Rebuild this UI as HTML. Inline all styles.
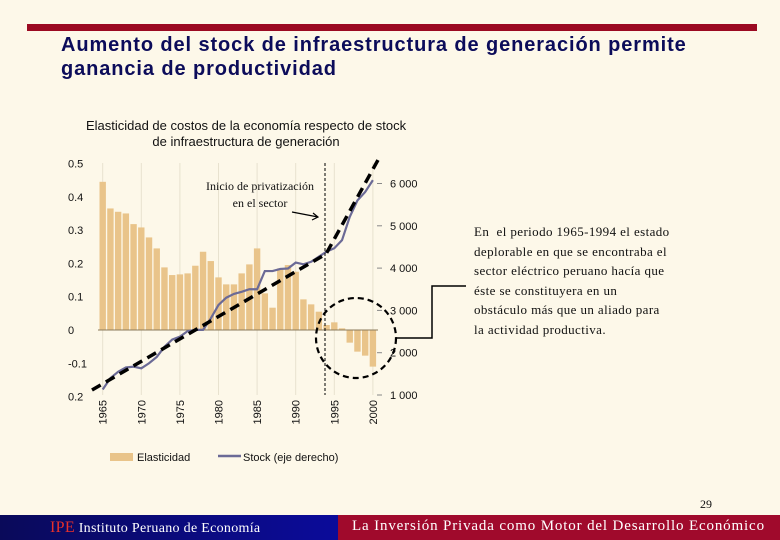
<!DOCTYPE html>
<html><head><meta charset="utf-8"><style>
body{margin:0;width:780px;height:540px;overflow:hidden;background:#fdf8e9;font-family:"Liberation Sans",sans-serif;position:relative}
.abs{position:absolute}
</style></head><body>
<div class="abs" style="left:27px;top:24px;width:730px;height:7px;background:#9b0a22"></div>
<div class="abs" style="left:61px;top:33px;font-size:20px;font-weight:bold;color:#0c0c5a;line-height:24px;letter-spacing:0.9px;white-space:nowrap">Aumento del stock de infraestructura de generación permite<br>ganancia de productividad</div>
<div class="abs" style="left:60px;top:118px;width:372px;text-align:center;font-size:13px;color:#111;line-height:16px;white-space:nowrap">Elasticidad de costos de la economía respecto de stock<br>de infraestructura de generación</div>
<div class="abs" style="left:474px;top:222px;width:260px;font-family:'Liberation Serif',serif;font-size:13px;line-height:19.5px;color:#111;letter-spacing:0.4px;white-space:nowrap">En&nbsp; el periodo 1965-1994 el estado<br>deplorable en que se encontraba el<br>sector eléctrico peruano hacía que<br>éste se constituyera en un<br>obstáculo más que un aliado para<br>la actividad productiva.</div>
<div class="abs" style="left:700px;top:497px;font-family:'Liberation Serif',serif;font-size:12px;color:#111">29</div>
<div class="abs" style="left:0;top:515px;width:338px;height:25px;background:linear-gradient(90deg,#0a0a5a,#0b0b9a)"></div>
<div class="abs" style="left:338px;top:515px;width:442px;height:25px;background:#a00a2c"></div>
<div class="abs" style="left:50px;top:519px;font-family:'Liberation Serif',serif;font-size:14px;color:#fff;letter-spacing:0.3px"><span style="color:#e8302a;font-size:16px">IPE</span> Instituto Peruano de Economía</div>
<div class="abs" style="left:352px;top:518px;font-family:'Liberation Serif',serif;font-size:15px;color:#fff;letter-spacing:0.85px">La Inversión Privada como Motor del Desarrollo Económico</div>
<svg class="abs" style="left:0;top:0" width="780" height="540" id="chart"></svg>
<script>
const years=[1965,1966,1967,1968,1969,1970,1971,1972,1973,1974,1975,1976,1977,1978,1979,1980,1981,1982,1983,1984,1985,1986,1987,1988,1989,1990,1991,1992,1993,1994,1995,1996,1997,1998,1999,2000];
const elasticity=[.445,.365,.355,.35,.318,.308,.278,.245,.188,.165,.167,.17,.193,.235,.207,.158,.137,.137,.17,.197,.245,.11,.067,.185,.195,.175,.092,.077,.055,.015,.023,.005,-.038,-.065,-.077,-.11];
const stock=[1130,1400,1550,1650,1670,1630,1750,1900,2140,2310,2380,2510,2540,2540,2810,3130,3300,3390,3440,3500,3500,3930,3930,3980,3990,4130,4090,4150,4270,4390,4470,4660,5210,5600,5800,6080];
const leftTicks=[0.5,0.4,0.3,0.2,0.1,0,-0.1,-0.2];
const leftLabels=["0.5","0.4","0.3","0.2","0.1","0","-0.1","0.2"];
const rightTicks=[6000,5000,4000,3000,2000,1000];
const rightLabels=["6 000","5 000","4 000","3 000","2 000","1 000"];
const xLabels=[1965,1970,1975,1980,1985,1990,1995,2000];
const NS="http://www.w3.org/2000/svg";
const svg=document.getElementById('chart');
const x=yr=>102.7+(yr-1965)*7.72;
const yL=v=>330-v*333;
const yR=v=>395-(v-1000)*0.0423;
function mk(t,a){const e=document.createElementNS(NS,t);for(const k in a)e.setAttribute(k,a[k]);svg.appendChild(e);return e;}
xLabels.forEach(yr=>{const g=mk('line',{x1:x(yr),x2:x(yr),y1:163,y2:395,stroke:'#e8e2cf','stroke-width':1});

});
years.forEach((yr,i)=>{const v=elasticity[i];const b=mk('rect',{x:x(yr)-3.2,y:Math.min(yL(v),yL(0)),width:6.4,height:Math.abs(yL(v)-yL(0)),fill:'#e9c48a'});

});
const zl=mk('line',{x1:98,x2:378,y1:yL(0),y2:yL(0),stroke:'#8a7a5a','stroke-width':1});


leftTicks.forEach((v,i)=>{const t=mk('text',{x:68,y:yL(v)+4,'font-size':11,fill:'#111','font-family':'Liberation Sans'});t.textContent=leftLabels[i];

});
rightTicks.forEach((v,i)=>{const tk=mk('line',{x1:377,x2:382,y1:yR(v),y2:yR(v),stroke:'#888'});


const t=mk('text',{x:390,y:yR(v)+4,'font-size':11,fill:'#111','font-family':'Liberation Sans'});t.textContent=rightLabels[i];

});
xLabels.forEach(yr=>{const t=mk('text',{x:0,y:0,'font-size':11,fill:'#111','font-family':'Liberation Sans','text-anchor':'end',transform:`translate(${x(yr)+4},400) rotate(-90)`});t.textContent=yr;

});
const sl=mk('polyline',{points:years.map((yr,i)=>x(yr)+','+yR(stock[i])).join(' '),fill:'none',stroke:'#6b6a96','stroke-width':2.2});


const tr=mk('polyline',{points:'92,390 326,254 378,160',fill:'none',stroke:'#000','stroke-width':3.5,'stroke-dasharray':'10,6'});


const vl=mk('line',{x1:325,x2:325,y1:163,y2:395,stroke:'#000','stroke-width':1,'stroke-dasharray':'3,2'});


const ar=mk('path',{d:'M292,212 L318,217 M313,213 L318,217 L312,220',stroke:'#000','stroke-width':1.2,fill:'none'});


const at=mk('text',{x:260,y:190,'font-size':12,'text-anchor':'middle','font-family':'Liberation Serif',fill:'#111'});at.textContent='Inicio de privatización';


const at2=mk('text',{x:260,y:207,'font-size':12,'text-anchor':'middle','font-family':'Liberation Serif',fill:'#111'});at2.textContent='en el sector';


const ci=mk('ellipse',{cx:356,cy:338,rx:40,ry:40,fill:'none',stroke:'#000','stroke-width':2.2,'stroke-dasharray':'6,4'});


const br=mk('polyline',{points:'466,286 432,286 432,338 396,338',fill:'none',stroke:'#000','stroke-width':1.5});


const lb=mk('rect',{x:110,y:453,width:23,height:8,fill:'#e9c48a'});


const lt=mk('text',{x:137,y:461,'font-size':11,fill:'#111'});lt.textContent='Elasticidad';


const ll=mk('line',{x1:218,x2:241,y1:456,y2:456,stroke:'#6b6a96','stroke-width':2.5});


const lt2=mk('text',{x:243,y:461,'font-size':11,fill:'#111'});lt2.textContent='Stock (eje derecho)';


</script>
</body></html>
